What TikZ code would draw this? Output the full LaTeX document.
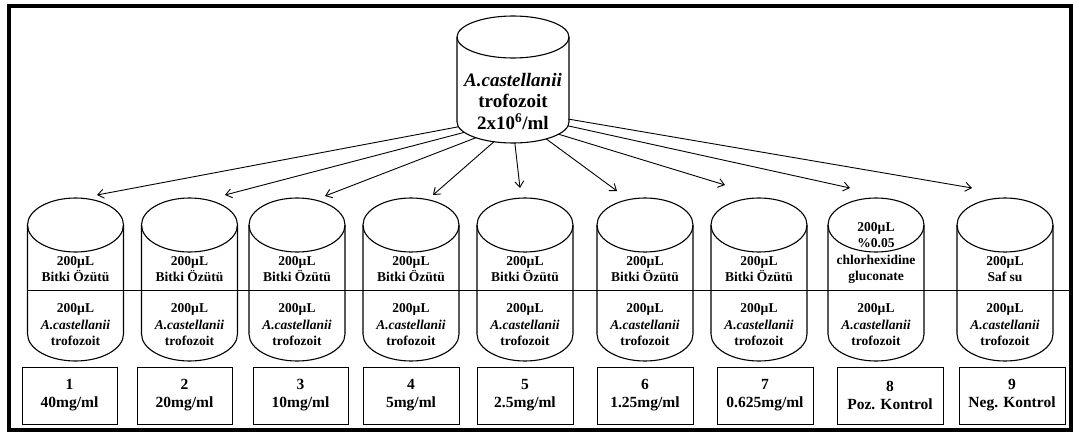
\documentclass[tikz,border=0pt]{standalone}
\usepackage{fontspec}
\setmainfont{Liberation Serif}
\usetikzlibrary{arrows.meta,shapes.geometric,calc}

% lower test tube: name, centre x, upper content
\newcommand\tube[3]{%
  \node[tubetop] (#1) at (#2,-225) {};
  \draw[outline] ($(#1.center)+(-48,0)$) -- ++(0,-109)
      arc[start angle=180,end angle=360,x radius=48,y radius=27] -- ++(0,109);
  \node[tubetext] (#1-up) at (#2,-269) {#3};
  \node[tubetext] (#1-low) at (#2,-325) {200µL\\\textit{A.castellanii}\\trofozoit};
}

\begin{document}
\begin{tikzpicture}[x=1pt,y=1pt,
  outline/.style={line width=1.1pt},
  tubetop/.style={ellipse,draw,outline,minimum width=96pt,minimum height=54pt,inner sep=0pt},
  tubetext/.style={font=\bfseries\fontsize{13.5}{16.5}\selectfont,align=center,inner sep=0pt},
  dosebox/.style={draw,line width=1pt,minimum height=57pt,inner sep=0pt,align=center,
                  font=\bfseries\fontsize{15.5}{18}\selectfont},
  arr/.style={line width=0.9pt,-{Straight Barb[length=6pt,width=9pt,line width=0.9pt]}}]

\useasboundingbox (0,0) rectangle (1073,-439);

% outer frame
\draw[line width=4pt] (9,-6) rectangle (1071,-430);

% stock culture tube
\node[ellipse,draw,outline,minimum width=112pt,minimum height=42pt,inner sep=0pt] (stocktop) at (513,-37) {};
\draw[outline] ($(stocktop.center)+(-56,0)$) -- ++(0,-85)
   arc[start angle=180,end angle=360,x radius=56,y radius=21] -- ++(0,85);
\node[ellipse,minimum width=112pt,minimum height=42pt,inner sep=0pt,outer sep=0pt] (stock) at (513,-122) {};
\node[font=\bfseries\fontsize{19}{21.5}\selectfont,align=center,inner sep=0pt] (stocktxt) at (513,-101)
   {\textit{A.castellanii}\\trofozoit\\2x10\textsuperscript{6}/ml};

% level line across the tubes
\draw[line width=0.8pt] (28,-290.5) -- (1071,-290.5);

% test tubes
\tube{c1}{75.5}{200µL\\Bitki Özütü}
\tube{c2}{189.5}{200µL\\Bitki Özütü}
\tube{c3}{297}{200µL\\Bitki Özütü}
\tube{c4}{411}{200µL\\Bitki Özütü}
\tube{c5}{525}{200µL\\Bitki Özütü}
\tube{c6}{645}{200µL\\Bitki Özütü}
\tube{c7}{759}{200µL\\Bitki Özütü}
\node[tubetop] (c8) at (876,-225) {};
\draw[outline] ($(c8.center)+(-48,0)$) -- ++(0,-109)
    arc[start angle=180,end angle=360,x radius=48,y radius=27] -- ++(0,109);
\node[tubetext] (c8-up) at (876,-253) {200µL\\\%0.05\\chlorhexidine\\gluconate};
\node[tubetext] (c8-low) at (876,-325) {200µL\\\textit{A.castellanii}\\trofozoit};
\tube{c9}{1005}{200µL\\Saf su}

% arrow ends above each tube
\coordinate (t1) at ($(c1.center)+(21.5,30)$);
\coordinate (t2) at ($(c2.center)+(35.5,30)$);
\coordinate (t3) at ($(c3.center)+(28,29)$);
\coordinate (t4) at ($(c4.center)+(22,30)$);
\coordinate (t5) at ($(c5.center)+(-5,37)$);
\coordinate (t6) at ($(c6.center)+(-28,34)$);
\coordinate (t7) at ($(c7.center)+(-34,40)$);
\coordinate (t8) at ($(c8.center)+(-26,37)$);
\coordinate (t9) at ($(c9.center)+(-33,37)$);

\draw[arr] (stock.185) -- (t1);
\draw[arr] (stock.192) -- (t2);
\draw[arr] (stock.203) -- (t3);
\draw[arr] (stock.226) -- (t4);
\draw[arr] (stock.275) -- (t5);
\draw[arr] (stock.333) -- (t6);
\draw[arr] (stock.345) -- (t7);
\draw[arr] (stock.356) -- (t8);
\draw[arr] (stock.3) -- (t9);

% concentration boxes
\node[dosebox,minimum width=95pt] (b1) at (69.5,-395.5) {1\\40mg/ml};
\node[dosebox,minimum width=95pt] (b2) at (184.5,-395.5) {2\\20mg/ml};
\node[dosebox,minimum width=95pt] (b3) at (300.5,-395.5) {3\\10mg/ml};
\node[dosebox,minimum width=96pt] (b4) at (411,-395.5) {4\\5mg/ml};
\node[dosebox,minimum width=96pt] (b5) at (525,-395.5) {5\\2.5mg/ml};
\node[dosebox,minimum width=96pt] (b6) at (645,-395.5) {6\\1.25mg/ml};
\node[dosebox,minimum width=96pt] (b7) at (765,-395.5) {7\\0.625mg/ml};
\node[dosebox,minimum width=106pt] (b8) at (890,-395.5) {8\\Poz. Kontrol};
\node[dosebox,minimum width=106pt] (b9) at (1012,-395.5) {9\\Neg. Kontrol};

\end{tikzpicture}
\end{document}
